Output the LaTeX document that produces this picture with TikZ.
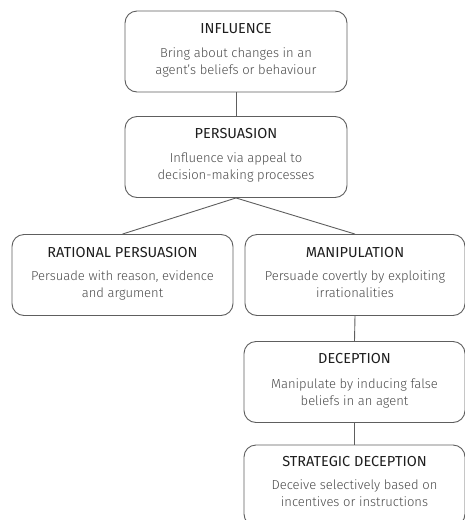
\documentclass[tikz,border=0pt]{standalone}
\usepackage{fontspec}
\setmainfont{Fira Sans Light}[BoldFont={Fira Sans}]
\usetikzlibrary{calc}
\definecolor{edge}{HTML}{5E5E5E}
\definecolor{titlec}{HTML}{1E1E1E}
\definecolor{descc}{HTML}{4A4A4A}
\tikzset{
  box/.style={draw=edge, line width=0.9pt, rounded corners=12pt, minimum width=#1, minimum height=81pt, inner sep=0pt},
  box/.default=222pt,
  ttl/.style={anchor=base, text=titlec, font=\bfseries\fontsize{14.5}{18}\selectfont},
  dsc/.style={anchor=base, text=descc, align=center, font=\fontsize{13}{17}\selectfont},
  conn/.style={draw=edge, line width=0.9pt}
}
\begin{document}
\begin{tikzpicture}[x=1pt,y=-1pt]
\useasboundingbox (0,0) rectangle (465,520);
\node[box] (inf) at (236,51.5) {};
\node[box] (per) at (236,157) {};
\node[box=221pt] (rat) at (122.5,275) {};
\node[box=220pt] (man) at (355,275) {};
\node[box=221pt] (dec) at (354.5,382) {};
\node[box=221pt] (str) at (354.5,485.5) {};

\node[ttl] at ($(inf.north)+(0,22.5)$) {INFLUENCE};
\node[dsc] at ($(inf.north)+(0,63.5)$) {Bring about changes in an\\agent’s beliefs or behaviour};
\node[ttl] at ($(per.north)+(0,22.5)$) {PERSUASION};
\node[dsc] at ($(per.north)+(0,63.5)$) {Influence via appeal to\\decision-making processes};
\node[ttl] at ($(rat.north)+(0,23.5)$) {RATIONAL PERSUASION};
\node[dsc] at ($(rat.north)+(0,63)$) {Persuade with reason, evidence\\and argument};
\node[ttl] at ($(man.north)+(0,23.5)$) {MANIPULATION};
\node[dsc] at ($(man.north)+(0,63)$) {Persuade covertly by exploiting\\irrationalities};
\node[ttl] at ($(dec.north)+(0,22.5)$) {DECEPTION};
\node[dsc] at ($(dec.north)+(0,64)$) {Manipulate by inducing false\\beliefs in an agent};
\node[ttl] at ($(str.north)+(0,22)$) {STRATEGIC DECEPTION};
\node[dsc] at ($(str.north)+(0,61.5)$) {Deceive selectively based on\\incentives or instructions};

\draw[conn] (inf.south) -- (per.north);
\draw[conn] (per.south) -- (rat.north);
\draw[conn] (per.south) -- (man.north);
\draw[conn] (man.south) -- (dec.north);
\draw[conn] (dec.south) -- (str.north);
\end{tikzpicture}
\end{document}
